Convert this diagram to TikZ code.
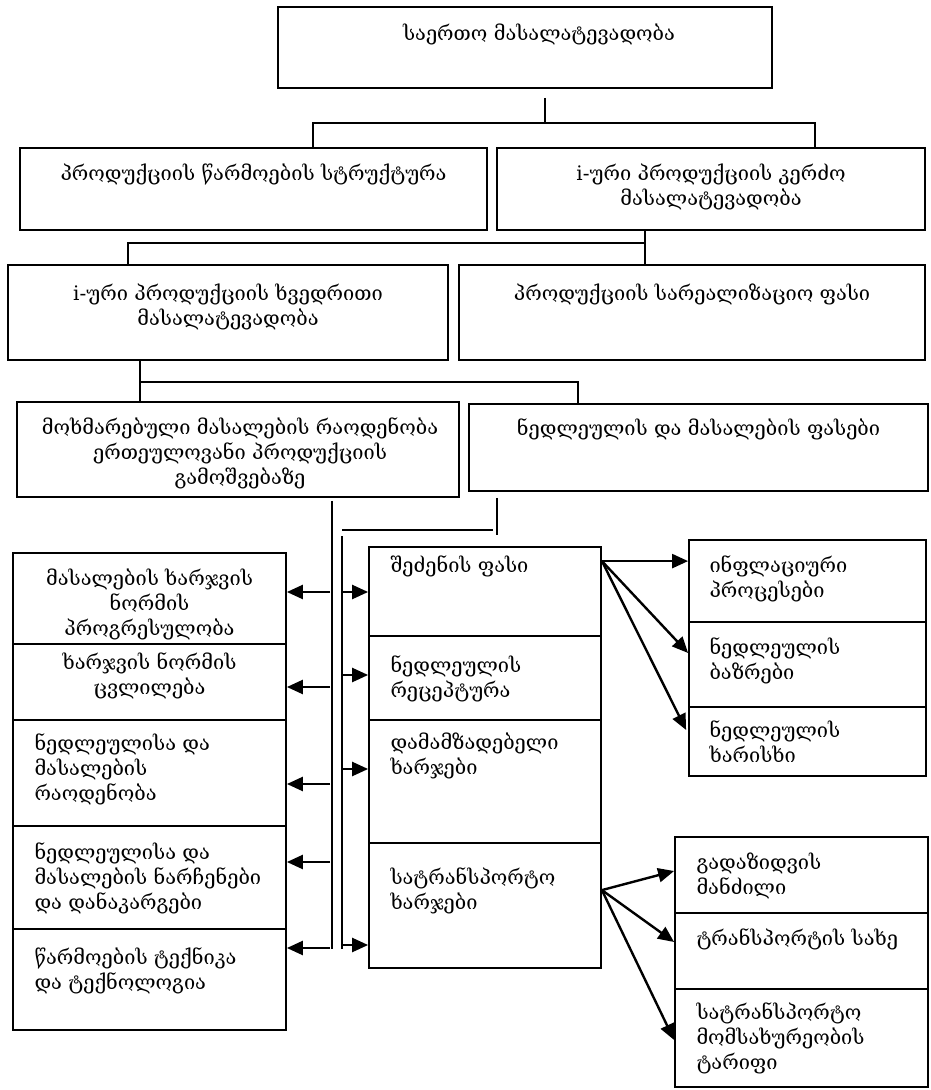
\documentclass[tikz,border=0pt]{standalone}
\usepackage{fontspec}
\newfontfamily\geo{DejaVu Serif}
\usetikzlibrary{arrows.meta, fit, calc}

\begin{document}
\begin{tikzpicture}[x=0.5pt, y=-0.5pt,
  box/.style={draw, line width=0.9pt, inner sep=0pt},
  txt/.style={font=\geo\fontsize{10}{12.5}\selectfont, inner sep=0pt},
  wire/.style={line width=0.8pt},
  arr/.style={line width=1.2pt, -{Triangle[length=8pt, width=7pt]}},
]
\useasboundingbox (0,0) rectangle (930,1090);

% ---- TOP LEVELS ----
\node[box, fit={(278,7) (772,88)},
  label={[txt, anchor=base, xshift=7pt, yshift=-17pt]north:{საერთო მასალატევადობა}}] (total) {};
\node[box, fit={(20,148) (487,230)},
  label={[txt, anchor=base, yshift=-16.5pt]north:{პროდუქციის წარმოების სტრუქტურა}}] (prodstr) {};
\node[box, fit={(497,148) (925,230)},
  label={[txt, align=center, anchor=base, yshift=-29pt]north:{i-ური პროდუქციის კერძო\\მასალატევადობა}}] (kerdzo) {};
\node[box, fit={(8,265) (448,360)},
  label={[txt, align=center, anchor=base, yshift=-30.5pt]north:{i-ური პროდუქციის ხვედრითი\\მასალატევადობა}}] (khvedr) {};
\node[box, fit={(459,265) (925,360)},
  label={[txt, anchor=base, yshift=-18pt]north:{პროდუქციის სარეალიზაციო ფასი}}] (realiz) {};
\node[box, fit={(17,402) (459,497)},
  label={[txt, align=center, anchor=base, xshift=1pt, yshift=-41.5pt]north:{მოხმარებული მასალების რაოდენობა\\ერთეულოვანი პროდუქციის\\გამოშვებაზე}}] (moxm) {};
\node[box, fit={(469,404) (928,491)},
  label={[txt, anchor=base, yshift=-16pt]north:{ნედლეულის და მასალების ფასები}}] (fasebi) {};

% tree lines
\coordinate (j1) at (545,123);
\coordinate (bl1) at (313,123);
\coordinate (br1) at (815,123);
\draw[wire] ([yshift=-4.5pt]total.south -| j1) -- (j1);
\draw[wire] (prodstr.north -| bl1) -- (bl1) -- (br1) -- (kerdzo.north -| br1);

\coordinate (j2) at (645,243);
\coordinate (bl2) at (128,243);
\draw[wire] (kerdzo.south -| j2) -- (realiz.north -| j2);
\draw[wire] (j2) -- (bl2) -- (khvedr.north -| bl2);

\coordinate (j3) at (140,382);
\coordinate (br3) at (578,382);
\draw[wire] (khvedr.south -| j3) -- (moxm.north -| j3);
\draw[wire] (j3) -- (br3) -- (fasebi.north -| br3);

% ---- LEFT COLUMN ----
\node[box, fit={(13,553) (286,644)},
  label={[txt, align=center, anchor=base, yshift=-41.5pt]north:{მასალების ხარჯვის\\ნორმის\\პროგრესულობა}}] (normprog) {};
\node[box, fit={(13,644) (286,720)},
  label={[txt, align=center, anchor=base, yshift=-25.5pt]north:{ხარჯვის ნორმის\\ცვლილება}}] (normcvl) {};
\node[box, fit={(13,720) (286,826)},
  label={[txt, align=left, anchor=base west, xshift=11pt, yshift=-40.5pt]north west:{ნედლეულისა და\\მასალების\\რაოდენობა}}] (raod) {};
\node[box, fit={(13,826) (286,929)},
  label={[txt, align=left, anchor=base west, xshift=11pt, yshift=-42pt]north west:{ნედლეულისა და\\მასალების ნარჩენები\\და დანაკარგები}}] (narchen) {};
\node[box, fit={(13,929) (286,1030)},
  label={[txt, align=left, anchor=base west, xshift=11pt, yshift=-30.5pt]north west:{წარმოების ტექნიკა\\და ტექნოლოგია}}] (teqnika) {};

% ---- MIDDLE COLUMN ----
\node[box, fit={(369,547) (601,636)},
  label={[txt, anchor=base west, xshift=11pt, yshift=-13pt]north west:{შეძენის ფასი}}] (shedzena) {};
\node[box, fit={(369,636) (601,720)},
  label={[txt, align=left, anchor=base west, xshift=11pt, yshift=-31pt]north west:{ნედლეულის\\რეცეპტურა}}] (recept) {};
\node[box, fit={(369,720) (601,843)},
  label={[txt, align=left, anchor=base west, xshift=11pt, yshift=-27.5pt]north west:{დამამზადებელი\\ხარჯები}}] (damamz) {};
\node[box, fit={(369,843) (601,968)},
  label={[txt, align=left, anchor=base west, xshift=11pt, yshift=-33.5pt]north west:{სატრანსპორტო\\ხარჯები}}] (transp) {};

% ---- RIGHT COLUMNS ----
\node[box, fit={(689,540) (926,622)},
  label={[txt, align=left, anchor=base west, xshift=10.5pt, yshift=-29pt]north west:{ინფლაციური\\პროცესები}}] (infl) {};
\node[box, fit={(689,622) (926,707)},
  label={[txt, align=left, anchor=base west, xshift=10.5pt, yshift=-29pt]north west:{ნედლეულის\\ბაზრები}}] (bazr) {};
\node[box, fit={(689,707) (926,776)},
  label={[txt, align=left, anchor=base west, xshift=10.5pt, yshift=-28pt]north west:{ნედლეულის\\ხარისხი}}] (khar) {};

\node[box, fit={(675,837) (928,913)},
  label={[txt, align=left, anchor=base west, xshift=11pt, yshift=-29pt]north west:{გადაზიდვის\\მანძილი}}] (mandzil) {};
\node[box, fit={(675,913) (928,989)},
  label={[txt, anchor=base west, xshift=11pt, yshift=-16.5pt]north west:{ტრანსპორტის სახე}}] (sakhe) {};
\node[box, fit={(675,989) (928,1087)},
  label={[txt, align=left, anchor=base west, xshift=11pt, yshift=-40.5pt]north west:{სატრანსპორტო\\მომსახურეობის\\ტარიფი}}] (tarifi) {};

% ---- BUS LINES ----
\coordinate (busL) at (332,949);
\coordinate (busR) at (342,949);
\coordinate (fk) at (342,530);
\coordinate (fj) at (497,530);
\draw[wire] ([yshift=-1.5pt]moxm.south -| busL) -- (busL);
\draw[wire] ([yshift=-3pt]fk) -- (busR);
\draw[wire] (fk) -- ([xshift=-2pt]fj);
\draw[wire] ([yshift=-3pt]fasebi.south -| fj) -- ([yshift=-2.5pt]fj);

% arrows to the left column
\foreach \n/\y in {normprog/592, normcvl/687, raod/784, narchen/862, teqnika/948}
  \draw[arr] ([xshift=-1pt]busL |- 0,\y) -- (\n.east |- 0,\y);
% arrows to the middle column
\foreach \n/\y in {shedzena/592, recept/675, damamz/769, transp/945}
  \draw[arr] (busR |- 0,\y) -- (\n.west |- 0,\y);

% ---- FANS ----
\coordinate (gs) at ([yshift=-7.5pt]shedzena.north east);
\draw[arr] (gs) -- (infl.west |- gs);
\draw[arr] (gs) -- (bazr.west |- 0,653);
\draw[arr] (gs) -- ([xshift=-1pt]khar.west |- 0,730);

\coordinate (ts) at ([yshift=-24pt]transp.north east);
\draw[arr] (ts) -- (mandzil.west |- 0,871);
\draw[arr] (ts) -- (sakhe.west |- 0,942);
\draw[arr] (ts) -- (tarifi.west |- 0,1040);

\end{tikzpicture}
\end{document}
